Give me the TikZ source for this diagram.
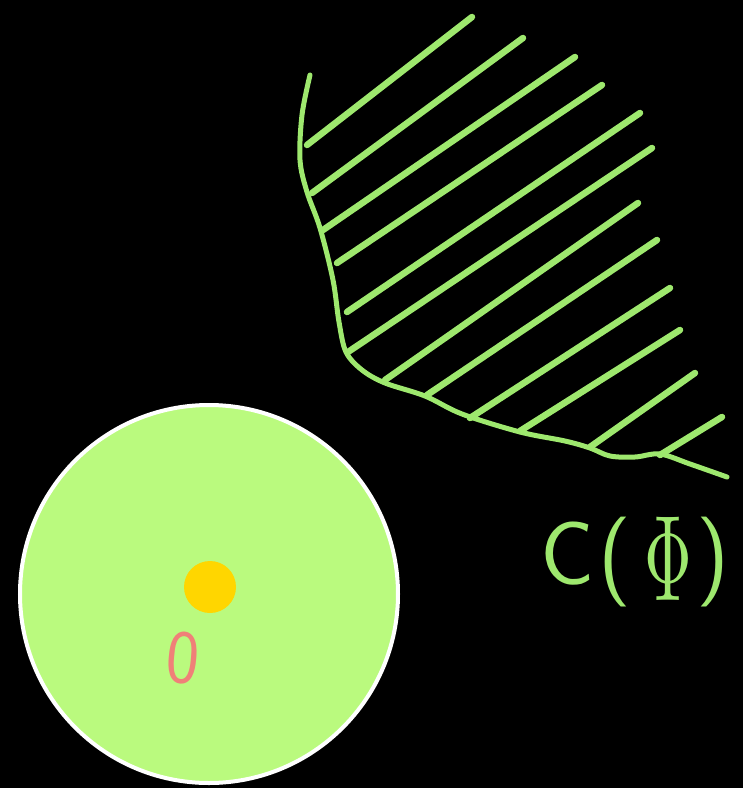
\documentclass[tikz,border=0pt]{standalone}
\usepackage{fontspec}
\usepackage{graphicx}
\definecolor{lgreen}{RGB}{158,232,110}
\definecolor{cfill}{RGB}{186,250,126}
\definecolor{dotyellow}{RGB}{255,214,0}
\definecolor{zpink}{RGB}{240,128,120}
\newcommand{\bigphi}{\raisebox{-16pt}{\scalebox{6.6}[12.2]{\fontsize{10}{12}\selectfont$\Phi$}}}
\begin{document}
\begin{tikzpicture}[x=1pt,y=-1pt,
  hatch/.style={draw=lgreen,line width=6.5pt,line cap=round},
  edgeline/.style={draw=lgreen,line width=5pt,line cap=round,line join=round}]
\fill[black] (0,0) rectangle (743,788);
\useasboundingbox (0,0) rectangle (743,788);
% hatched region boundary
\draw[edgeline] plot[smooth,tension=0.55] coordinates {
  (310,75) (302,115) (300,160) (307,192) (320,228) (333,280) (339,322)
  (346,352) (362,370) (385,383) (425,396) (462,414) (520,432) (565,441)
  (590,448) (610,456) (635,457) (660,454) (690,464) (727,477)};
% hatch lines
\foreach \sx/\sy/\ex/\ey in {
  307/145/472/17, 312/193/523/38, 323/230/575/57, 337/263/602/85,
  347/312/640/113, 348/352/652/148, 385/380/638/203, 427/395/657/240,
  470/418/670/288, 520/431/680/330, 590/447/695/373, 660/455/722/417}
  \draw[hatch] (\sx,\sy) -- (\ex,\ey);
% disc
\filldraw[fill=cfill,draw=white,line width=4pt] (209,594) circle[radius=189];
\fill[dotyellow] (210,587) circle[radius=26];
\node[text=zpink,font=\sffamily\fontsize{76}{76}\selectfont,inner sep=0,rotate=-5,xscale=0.92] (zero) at (183,658) {0};
% label
\node[text=lgreen,font=\sffamily\fontsize{90}{90}\selectfont,inner sep=0,anchor=base west] (label) at (540,584)
  {C\kern4pt(\kern13pt\bigphi\kern5pt)};
\end{tikzpicture}
\end{document}
